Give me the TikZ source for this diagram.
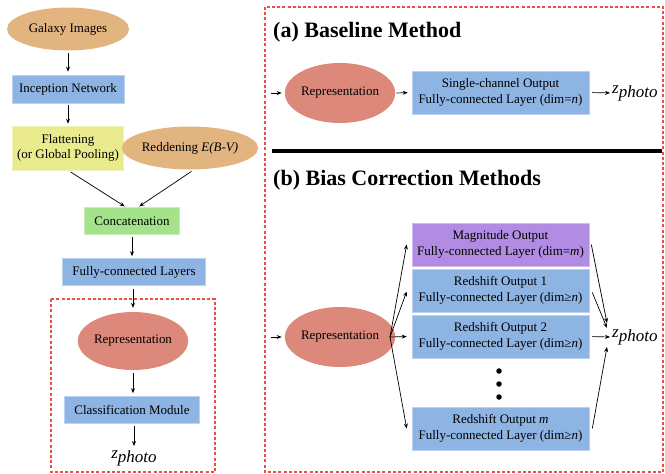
\documentclass[tikz,border=0pt]{standalone}
\usepackage{fontspec}
\setmainfont{Liberation Serif}
\usetikzlibrary{shapes.geometric,arrows.meta}
\definecolor{tanc}{RGB}{226,180,128}
\definecolor{salm}{RGB}{220,136,122}
\definecolor{bluec}{RGB}{141,180,226}
\definecolor{yelc}{RGB}{234,234,143}
\definecolor{grnc}{RGB}{165,226,140}
\definecolor{purc}{RGB}{177,140,226}
\definecolor{redd}{RGB}{240,78,58}
\newcommand{\zph}{{\fontsize{17}{17}\selectfont\textit{z}\raisebox{-4pt}{\textit{photo}}}}
\tikzset{
  boxn/.style={rectangle, fill=#1, draw=#1!60!white, line width=0.6pt, inner sep=0pt,
    align=center, font=\fontsize{13}{15.5}\selectfont},
  elln/.style={ellipse, fill=#1, draw=none, inner sep=0pt,
    align=center, font=\fontsize{13}{15.5}\selectfont},
  arr/.style={-{Stealth[length=5pt,width=4pt]}, line width=0.7pt},
  dashbox/.style={draw=redd, line width=1.6pt, dash pattern=on 3pt off 2.2pt},
  ttl/.style={anchor=base west, inner sep=0pt, font=\fontsize{22}{24}\selectfont\bfseries},
  zn/.style={inner sep=0pt},
  dotn/.style={circle, fill=black, inner sep=0pt, minimum size=5.5pt}
}
\begin{document}
\begin{tikzpicture}[x=1pt,y=-1pt]
\useasboundingbox (0,0) rectangle (665,474);
% ---------- left column ----------
\node[elln=tanc, minimum width=122pt, minimum height=43pt] (gal) at (68,29) {Galaxy Images};
\node[boxn=bluec, minimum width=112pt, minimum height=28pt] (inc) at (68,89) {Inception Network};
\node[boxn=yelc, minimum width=111pt, minimum height=44pt] (flat) at (68,148) {Flattening\\(or Global Pooling)};
\node[elln=tanc, minimum width=116pt, minimum height=43pt] (red) at (190,148) {Reddening \textit{E(B-V)}};
\node[boxn=grnc, minimum width=95pt, minimum height=27pt] (cat) at (132,221) {Concatenation};
\node[boxn=bluec, minimum width=143pt, minimum height=27pt] (fc) at (134,272) {Fully-connected Layers};
\node[elln=salm, minimum width=92pt, minimum height=58pt] (repL) at (133,341) {Representation};
\node[boxn=bluec, minimum width=135pt, minimum height=27pt] (cls) at (132,410) {Classification Module};
\node[zn] (zL) at (134,458) {\zph};

\draw[arr, shorten <=2.5pt, shorten >=3pt] (gal.south) -- (inc.north);
\draw[arr, shorten <=2pt, shorten >=2pt] (inc.south) -- (flat.north);
\draw[arr, shorten <=3pt, shorten >=1.5pt] (flat.south) -- ([xshift=-6pt]cat.north);
\draw[arr, shorten <=3pt, shorten >=1.5pt] ([xshift=4pt]red.south) -- ([xshift=6pt]cat.north);
\draw[arr, shorten <=2pt, shorten >=2pt] (cat.south) -- (cat.south |- fc.north);
\draw[arr, shorten <=3pt, shorten >=4pt] (fc.south -| repL.north) -- (repL.north);
\draw[arr, shorten <=3pt, shorten >=3pt] (repL.south) -- (repL.south |- cls.north);
\draw[arr, shorten <=2pt, shorten >=4pt] (cls.south -| zL.north) -- (zL.north);

\draw[dashbox] (51,299) rectangle (215,472);

% ---------- right panel ----------
\draw[dashbox] (265,7) rectangle (663,472);
\node[ttl] (ta) at (273,37) {(a) Baseline Method};
\node[ttl] (tb) at (273,185) {(b) Bias Correction Methods};
\coordinate (l1) at (272,151);
\coordinate (l2) at (662,151);
\draw[line width=3.2pt] (l1) -- (l2);

% (a)
\coordinate (inA) at (271,93);
\node[elln=salm, minimum width=94pt, minimum height=60pt] (repA) at (340,93) {Representation};
\node[boxn=bluec, minimum width=177pt, minimum height=43pt] (single) at (500.5,92.5) {Single-channel Output\\Fully-connected Layer (dim=\textit{n})};
\node[zn, anchor=west] (zA) at (612,93) {\zph};
\draw[arr, shorten >=3pt] (inA) -- (repA.west);
\draw[arr, shorten <=1pt, shorten >=4pt] (repA.east) -- (single.west);
\draw[arr, shorten <=3pt, shorten >=2pt] (single.east) -- (zA.west);

% (b)
\coordinate (inB) at (271,337);
\node[elln=salm, minimum width=94pt, minimum height=60pt] (repB) at (340,337) {Representation};
\node[boxn=purc, minimum width=177pt, minimum height=43pt] (mag) at (500.5,244.5) {Magnitude Output\\Fully-connected Layer (dim=\textit{m})};
\node[boxn=bluec, minimum width=177pt, minimum height=43pt] (r1) at (500.5,290.5) {Redshift Output 1\\Fully-connected Layer (dim≥\textit{n})};
\node[boxn=bluec, minimum width=177pt, minimum height=43pt] (r2) at (500.5,336.5) {Redshift Output 2\\Fully-connected Layer (dim≥\textit{n})};
\node[boxn=bluec, minimum width=177pt, minimum height=43pt] (rm) at (500.5,428.5) {Redshift Output \textit{m}\\Fully-connected Layer (dim≥\textit{n})};
\node[dotn] (d1) at (499,371) {};
\node[dotn] (d2) at (499,384) {};
\node[dotn] (d3) at (499,397) {};
\node[zn, anchor=west] (zB) at (612,337) {\zph};
\coordinate (br) at (390,337);

\draw[arr, shorten >=3pt] (inB) -- (repB.west);
\draw[arr, shorten >=0pt] (br) -- ([xshift=-5pt]mag.west);
\draw[arr, shorten >=0pt] (br) -- ([xshift=-5pt,yshift=-1pt]r1.west);
\draw[arr, shorten >=0pt] (br) -- ([xshift=-5pt]r2.west);
\draw[arr, shorten >=0pt] (br) -- ([xshift=-5pt]rm.west);

\draw[arr] ([xshift=2pt]mag.east) -- ([xshift=-5pt,yshift=14pt]zB.west);
\draw[arr] ([xshift=3pt,yshift=-2pt]r1.east) -- ([xshift=-5pt,yshift=9pt]zB.west);
\draw[arr, shorten <=3pt] (r2.east) -- ([xshift=-2pt]zB.west);
\draw[arr] ([xshift=3pt]rm.east) -- ([xshift=-5pt,yshift=-10pt]zB.west);
\end{tikzpicture}
\end{document}
